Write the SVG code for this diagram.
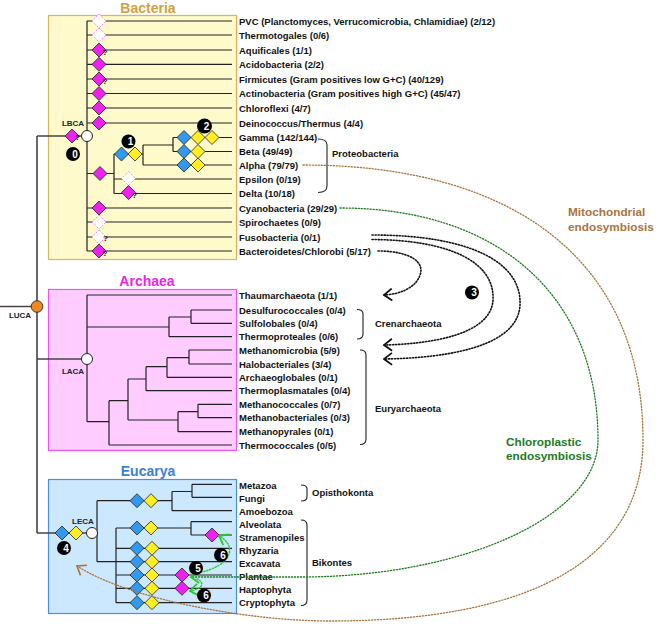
<svg xmlns="http://www.w3.org/2000/svg" width="661" height="625" viewBox="0 0 661 625">
<defs>
<style>
.t{font-family:"Liberation Sans",Arial,sans-serif;font-weight:bold;font-size:9.5px;fill:#111}
.anc{font-family:"Liberation Sans",Arial,sans-serif;font-weight:bold;font-size:8px;fill:#222;text-anchor:middle}
.title{font-family:"Liberation Sans",Arial,sans-serif;font-weight:bold;font-size:14px;text-anchor:middle}
.ln{fill:none;stroke:#222;stroke-width:1.2}
.root{fill:none;stroke:#444;stroke-width:1.6}
.br{fill:none;stroke:#222;stroke-width:1.1}
.mg{fill:#EE22EE;stroke:#222;stroke-width:0.8}
.bl{fill:#3399EE;stroke:#222;stroke-width:0.8}
.ye{fill:#FFEE22;stroke:#222;stroke-width:0.8}
.ds{fill:#fff;stroke:#FF77FF;stroke-width:0.9;stroke-dasharray:2 1.5}
.circ{fill:#fff;stroke:#222;stroke-width:1}
.num{font-family:"Liberation Sans",Arial,sans-serif;font-weight:bold;font-size:10px;fill:#fff;text-anchor:middle}
.q{font-family:"Liberation Sans",Arial,sans-serif;font-weight:bold;font-size:8px;fill:#111}
.hgt{fill:none;stroke:#111;stroke-width:1.6;stroke-dasharray:1.2 1.8;stroke-linecap:round}
.mito{fill:none;stroke:#A8743F;stroke-width:1.3;stroke-dasharray:1.2 1.8;stroke-linecap:round}
.chl{fill:none;stroke:#1E7B1E;stroke-width:1.3;stroke-dasharray:1.2 1.8;stroke-linecap:round}
.gr{fill:none;stroke:#33CC33;stroke-width:1.5;stroke-dasharray:1.2 1.8;stroke-linecap:round}
.lab{font-family:"Liberation Sans",Arial,sans-serif;font-weight:bold;font-size:11.8px}
</style>
<path id="d" d="M0,-7 L7,0 L0,7 L-7,0Z"/>
<marker id="ak" markerUnits="userSpaceOnUse" viewBox="0 0 10 14" markerWidth="10" markerHeight="14" refX="9" refY="7" orient="auto"><path d="M1,1 L9,7 L1,13" fill="none" stroke="#111" stroke-width="1.8"/></marker>
<marker id="ab" markerUnits="userSpaceOnUse" viewBox="0 0 10 14" markerWidth="10" markerHeight="14" refX="9" refY="7" orient="auto"><path d="M1,1 L9,7 L1,13" fill="none" stroke="#A8743F" stroke-width="1.6"/></marker>
<marker id="ag" markerUnits="userSpaceOnUse" viewBox="0 0 10 14" markerWidth="10" markerHeight="14" refX="9" refY="7" orient="auto"><path d="M1,1 L9,7 L1,13" fill="none" stroke="#22CC22" stroke-width="1.8"/></marker>
</defs>
<rect width="661" height="625" fill="#fff"/>

<g id="domain-boxes">
<rect x="48.5" y="15.5" width="188" height="244" fill="#FFFACB" stroke="#D8B45C" stroke-width="1.2"/>
<text class="title" x="148" y="12.5" fill="#CFA23E">Bacteria</text>
<rect x="48.5" y="289.5" width="188" height="161" fill="#FFCCFF" stroke="#EE55EE" stroke-width="1.2"/>
<text class="title" x="147" y="286" fill="#EE22EE">Archaea</text>
<rect x="48.5" y="479.5" width="188" height="134" fill="#CCE8FF" stroke="#4A8FE0" stroke-width="1.2"/>
<text class="title" x="148" y="476" fill="#3A7FD9">Eucarya</text>
</g>

<g id="connectors">
<path class="root" d="M0,306.5 H37 M37,136 V533 M37,136 H82 M37,359 H82 M37,533 H87"/>
<path class="ln" d="M87,21 V251 M87,21 H232 M87,35 H232 M87,50 H232 M87,64.3 H232 M87,79 H232 M87,93.5 H232 M87,108 H232 M87,123 H232 M87,208 H232 M87,222 H232 M87,237 H232 M87,251 H232 M87,173.5 H114 M114,154 V193.5 M114,154 H143 M143,145 V165 M143,145 H173 M173,137.5 V151.5 M173,137.5 H232 M173,151.5 H232 M143,165 H232 M114,179 H232 M114,193.5 H232"/>
<path class="ln" d="M87,295 V421.7 M87,295 H232 M87,327 H169 M169,317 V336.7 M169,317 H191 M191,310 V323.3 M191,310 H232 M191,323.3 H232 M169,336.7 H232 M87,421.7 H109 M109,400.7 V445 M109,445 H232 M109,400.7 H128 M128,379 V420 M128,379 H146 M146,366.7 V390.7 M146,390.7 H232 M146,366.7 H167 M167,357.7 V377.3 M167,377.3 H232 M167,357.7 H189 M189,350 V364 M189,350 H232 M189,364 H232 M128,420 H178 M178,411.7 V431.7 M178,431.7 H232 M178,411.7 H198 M198,404.3 V417.7 M198,404.3 H232 M198,417.7 H232"/>
<path class="ln" d="M97,500.7 V561.7 M97,500.7 H172 M172,491.5 V510.7 M172,491.5 H192 M192,484.3 V497.3 M192,484.3 H232 M192,497.3 H232 M172,510.7 H232 M97,561.7 H116 M116,528 V602.7 M116,528 H191 M191,521.7 V535 M191,521.7 H232 M191,535 H232 M116,548.3 H232 M116,561.7 H232 M116,575 H232 M116,588.3 H232 M116,602.7 H232"/>
<path class="br" d="M318,139 Q327,139 327,145 V186 Q327,192.5 318,192.5"/>
<path class="br" d="M357,309.5 Q363,309.5 363,314 V334 Q363,339 357,339"/>
<path class="br" d="M360,350 Q366,350 366,355 V439 Q366,444.5 360,444.5"/>
<path class="br" d="M301,485 Q307,485 307,489 V497 Q307,501 301,501"/>
<path class="br" d="M301,520 Q307,520 307,525 V600 Q307,605.5 301,605.5"/>
</g>

<g id="bacteria-leaves">
<text class="t" x="239" y="24.5">PVC (Planctomyces, Verrucomicrobia, Chlamidiae) (2/12)</text>
<text class="t" x="239" y="38.5">Thermotogales (0/6)</text>
<text class="t" x="239" y="53.5">Aquificales (1/1)</text>
<text class="t" x="239" y="67.8">Acidobacteria (2/2)</text>
<text class="t" x="239" y="82.5">Firmicutes (Gram positives low G+C) (40/129)</text>
<text class="t" x="239" y="97">Actinobacteria (Gram positives high G+C) (45/47)</text>
<text class="t" x="239" y="111.5">Chloroflexi (4/7)</text>
<text class="t" x="239" y="126.5">Deinococcus/Thermus (4/4)</text>
<text class="t" x="239" y="141">Gamma (142/144)</text>
<text class="t" x="239" y="155">Beta (49/49)</text>
<text class="t" x="239" y="168.5">Alpha (79/79)</text>
<text class="t" x="239" y="182.5">Epsilon (0/19)</text>
<text class="t" x="239" y="197">Delta (10/18)</text>
<text class="t" x="239" y="211.5">Cyanobacteria (29/29)</text>
<text class="t" x="239" y="225.5">Spirochaetes (0/9)</text>
<text class="t" x="239" y="240.5">Fusobacteria (0/1)</text>
<text class="t" x="239" y="254.5">Bacteroidetes/Chlorobi (5/17)</text>
<text class="t" x="332" y="156.5">Proteobacteria</text>
</g>

<g id="archaea-leaves">
<text class="t" x="239" y="298.5">Thaumarchaeota (1/1)</text>
<text class="t" x="239" y="313.5">Desulfurococcales (0/4)</text>
<text class="t" x="239" y="326.8">Sulfolobales (0/4)</text>
<text class="t" x="239" y="340.2">Thermoproteales (0/6)</text>
<text class="t" x="239" y="353.5">Methanomicrobia (5/9)</text>
<text class="t" x="239" y="367.5">Halobacteriales (3/4)</text>
<text class="t" x="239" y="380.8">Archaeoglobales (0/1)</text>
<text class="t" x="239" y="394.2">Thermoplasmatales (0/4)</text>
<text class="t" x="239" y="407.8">Methanococcales (0/7)</text>
<text class="t" x="239" y="421.2">Methanobacteriales (0/3)</text>
<text class="t" x="239" y="435.2">Methanopyrales (0/1)</text>
<text class="t" x="239" y="448.5">Thermococcales (0/5)</text>
<text class="t" x="375" y="327">Crenarchaeota</text>
<text class="t" x="375" y="411.5">Euryarchaeota</text>
</g>

<g id="eucarya-leaves">
<text class="t" x="239" y="488.5">Metazoa</text>
<text class="t" x="239" y="501.8">Fungi</text>
<text class="t" x="239" y="515">Amoebozoa</text>
<text class="t" x="239" y="527.5">Alveolata</text>
<text class="t" x="239" y="540.5">Stramenopiles</text>
<text class="t" x="239" y="553.5">Rhyzaria</text>
<text class="t" x="239" y="566.5">Excavata</text>
<text class="t" x="239" y="579.5">Plantae</text>
<text class="t" x="239" y="592.5">Haptophyta</text>
<text class="t" x="239" y="606">Cryptophyta</text>
<text class="t" x="312" y="496">Opisthokonta</text>
<text class="t" x="312" y="566">Bikontes</text>
</g>

<g id="bacteria-markers">
<use href="#d" class="ds" x="99" y="21"/>
<use href="#d" class="ds" x="99" y="35"/>
<use href="#d" class="mg" x="99" y="50"/>
<use href="#d" class="mg" x="99" y="64.3"/>
<use href="#d" class="mg" x="99" y="79"/>
<use href="#d" class="mg" x="99" y="93.5"/>
<use href="#d" class="mg" x="99" y="108"/>
<use href="#d" class="mg" x="99" y="123"/>
<use href="#d" class="mg" x="100" y="173.5"/>
<use href="#d" class="mg" x="99" y="208"/>
<use href="#d" class="ds" x="99" y="222"/>
<use href="#d" class="ds" x="99" y="237"/>
<use href="#d" class="mg" x="99" y="251"/>
<use href="#d" class="bl" x="121.5" y="154"/>
<use href="#d" class="ye" x="135" y="154"/>
<use href="#d" class="ds" x="128.5" y="178.5"/>
<use href="#d" class="mg" x="128.5" y="192.5"/>
<use href="#d" class="bl" x="184" y="137.5"/>
<use href="#d" class="ye" x="198" y="137.5"/>
<use href="#d" class="ye" x="212" y="137.5"/>
<use href="#d" class="bl" x="184" y="151.5"/>
<use href="#d" class="ye" x="198" y="151.5"/>
<use href="#d" class="bl" x="184" y="165"/>
<use href="#d" class="ye" x="198" y="165"/>
<text class="q" x="102.5" y="55">?</text>
<text class="q" x="102.5" y="84">?</text>
<text class="q" x="132" y="198">?</text>
<text class="q" x="103" y="241" font-size="9">?</text>
<text class="q" x="102.5" y="256">?</text>
</g>

<g id="LBCA">
<use href="#d" class="mg" x="72" y="136"/>
<text class="q" x="75" y="140">?</text>
<circle class="circ" cx="87" cy="136" r="5.5"/>
<text class="anc" x="73" y="125.5">LBCA</text>
</g>
<g id="LUCA">
<circle cx="37" cy="306.5" r="5.8" fill="#EE8822" stroke="#333" stroke-width="1"/>
<text class="anc" x="20" y="318">LUCA</text>
</g>
<g id="LACA">
<circle class="circ" cx="87" cy="359" r="5.5"/>
<text class="anc" x="73" y="374">LACA</text>
</g>
<g id="LECA">
<use href="#d" class="bl" x="62" y="533"/>
<use href="#d" class="ye" x="76" y="533"/>
<circle class="circ" cx="92" cy="533" r="5.5"/>
<text class="anc" x="83" y="523.5">LECA</text>
</g>

<g id="eucarya-markers">
<use href="#d" class="bl" x="137" y="500.7"/>
<use href="#d" class="ye" x="151" y="500.7"/>
<use href="#d" class="bl" x="137" y="528"/>
<use href="#d" class="ye" x="151" y="528"/>
<use href="#d" class="bl" x="137" y="548.3"/>
<use href="#d" class="ye" x="152" y="548.3"/>
<use href="#d" class="bl" x="137" y="561.7"/>
<use href="#d" class="ye" x="152" y="561.7"/>
<use href="#d" class="bl" x="137" y="575"/>
<use href="#d" class="ye" x="152" y="575"/>
<use href="#d" class="bl" x="137" y="588.3"/>
<use href="#d" class="ye" x="152" y="588.3"/>
<use href="#d" class="bl" x="137" y="602.7"/>
<use href="#d" class="ye" x="152" y="602.7"/>
<use href="#d" class="mg" x="212" y="535"/>
<use href="#d" class="mg" x="182" y="575"/>
<use href="#d" class="mg" x="182" y="588.3"/>
</g>

<g id="endosymbiosis-arrows">
<path class="mito" d="M303,165 C516,165 643,262 643,440 C643,558 534,621 330,621 C250,621 130,600 77,566" marker-end="url(#ab)"/>
<path class="chl" d="M340,208 C499,208 598,296 598,440 C598,516 464,577 300,577 L191,577" marker-end="url(#ag)"/>
<path class="gr" d="M198,573 C232,566 238,546 219,536" marker-end="url(#ag)"/>
<path class="gr" d="M197,579 C206,583 202,589 190,591" marker-end="url(#ag)"/>
<text class="lab" x="568" y="216" fill="#A8743F">Mitochondrial</text>
<text class="lab" x="568" y="230.5" fill="#A8743F">endosymbiosis</text>
<text class="lab" x="506" y="445.5" fill="#1E7B1E">Chloroplastic</text>
<text class="lab" x="506" y="459.5" fill="#1E7B1E">endosymbiosis</text>
</g>

<g id="hgt-arrows">
<path class="hgt" d="M378,251 C410,251 425,262 420,275 C416,287 402,294 384,295" marker-end="url(#ak)"/>
<path class="hgt" d="M372,239.5 C450,240 495,262 493,300 C491,335 430,344 384,345" marker-end="url(#ak)"/>
<path class="hgt" d="M372,235 C470,235 522,262 520,305 C518,346 450,358 384,359" marker-end="url(#ak)"/>
</g>

<g id="events">
<circle class="ball" cx="73" cy="154" r="7"/><text class="num" x="75" y="157.5">0</text>
<circle class="ball" cx="128.5" cy="141.5" r="7"/><text class="num" x="130.5" y="145">1</text>
<circle class="ball" cx="204.5" cy="126" r="7.5"/><text class="num" x="206.5" y="129.5">2</text>
<circle class="ball" cx="472" cy="292.5" r="7"/><text class="num" x="474" y="296">3</text>
<circle class="ball" cx="64" cy="548" r="7"/><text class="num" x="66" y="551.5">4</text>
<circle class="ball" cx="196" cy="568" r="7"/><text class="num" x="198" y="571.5">5</text>
<circle class="ball" cx="221" cy="555" r="7"/><text class="num" x="223" y="558.5">6</text>
<circle class="ball" cx="204" cy="595.5" r="7"/><text class="num" x="206" y="599">6</text>
</g>
</svg>
